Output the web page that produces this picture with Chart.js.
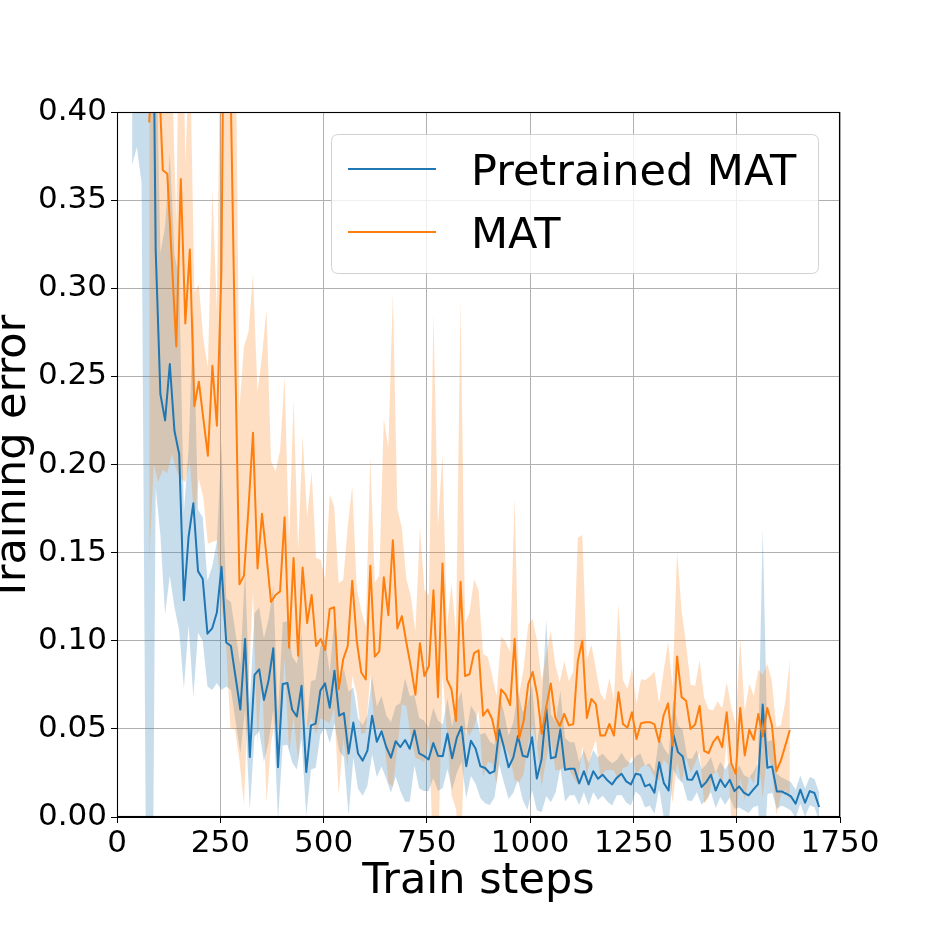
<!DOCTYPE html>
<html>
<head>
<meta charset="utf-8">
<script src="https://cdn.jsdelivr.net/npm/chart.js@4.4.0/dist/chart.umd.min.js"></script>
<style>
  html, body { margin: 0; padding: 0; background: #ffffff; }
  #wrap { width: 934px; height: 934px; position: relative; overflow: hidden; }
  canvas { display: block; }
</style>
</head>
<body>
<div id="wrap"><canvas id="c" width="934" height="934"></canvas></div>
<script>
// ---------------- DATA ----------------
const xTitle = 'Train steps';
const yTitle = 'Training error';
const seriesNames = ['Pretrained MAT', 'MAT'];
const xTicks = [0, 250, 500, 750, 1000, 1250, 1500, 1750];
const yTicks = [0, 0.05, 0.10, 0.15, 0.20, 0.25, 0.30, 0.35, 0.40];

const pretrainedSteps = [36.6, 48.0, 59.4, 70.8, 82.2, 93.6, 105.0, 116.4, 127.8, 139.1, 150.5, 161.9, 173.3, 184.7, 196.1, 207.5, 218.9, 230.3, 241.7, 253.0,
  264.4, 275.8, 287.2, 298.6, 310.0, 321.4, 332.8, 344.2, 355.6, 366.9, 378.3, 389.7, 401.1, 412.5, 423.9, 435.3, 446.7, 458.1, 469.5, 480.8,
  492.2, 503.6, 515.0, 526.4, 537.8, 549.2, 560.6, 572.0, 583.4, 594.7, 606.1, 617.5, 628.9, 640.3, 651.7, 663.1, 674.5, 685.9, 697.3, 708.6,
  720.0, 731.4, 742.8, 754.2, 765.6, 777.0, 788.4, 799.8, 811.2, 822.5, 833.9, 845.3, 856.7, 868.1, 879.5, 890.9, 902.3, 913.7, 925.1, 936.4,
  947.8, 959.2, 970.6, 982.0, 993.4, 1004.8, 1016.2, 1027.6, 1039.0, 1050.3, 1061.7, 1073.1, 1084.5, 1095.9, 1107.3, 1118.7, 1130.1, 1141.5, 1152.9, 1164.2,
  1175.6, 1187.0, 1198.4, 1209.8, 1221.2, 1232.6, 1244.0, 1255.4, 1266.8, 1278.1, 1289.5, 1300.9, 1312.3, 1323.7, 1335.1, 1346.5, 1357.9, 1369.3, 1380.7, 1392.0,
  1403.4, 1414.8, 1426.2, 1437.6, 1449.0, 1460.4, 1471.8, 1483.2, 1494.6, 1505.9, 1517.3, 1528.7, 1540.1, 1551.5, 1562.9, 1574.3, 1585.7, 1597.1, 1608.5, 1619.8,
  1631.2, 1642.6, 1654.0, 1665.4, 1676.8, 1688.2, 1699.6];

const pretrainedMean = [0.75, 0.8, 0.75, 0.7, 0.6,
  0.322, 0.240, 0.225, 0.257, 0.219, 0.206, 0.123, 0.159, 0.178, 0.1395, 0.135, 0.104, 0.107, 0.116, 0.142,
  0.099, 0.097, 0.079, 0.061, 0.101, 0.034, 0.0806, 0.0838, 0.0664, 0.0774, 0.0957, 0.0283, 0.0755, 0.076, 0.061, 0.057, 0.0745, 0.0255, 0.052, 0.053, 0.0717, 0.0758, 0.062, 0.083, 0.0575, 0.059, 0.036, 0.0536, 0.036,
  0.032, 0.0377, 0.0575, 0.0427, 0.0486, 0.0397, 0.0337, 0.043, 0.0397, 0.0437, 0.0387, 0.0492, 0.0361, 0.0347, 0.0327, 0.042, 0.0347, 0.0345, 0.0472, 0.0333, 0.045,
  0.0512, 0.0288, 0.0433, 0.0387, 0.0288, 0.0278, 0.0248, 0.026, 0.0496, 0.0397, 0.0282, 0.0337, 0.046, 0.0347, 0.034, 0.0452, 0.0218, 0.0327, 0.0619, 0.0333, 0.034, 0.0496, 0.0268, 0.0274, 0.0274,
  0.019, 0.026, 0.0185, 0.026, 0.0217, 0.024, 0.0208, 0.0185, 0.0223, 0.0245, 0.0202, 0.0185, 0.0245, 0.024, 0.0174, 0.0185, 0.0138, 0.031, 0.0192, 0.015, 0.047, 0.0368, 0.0343, 0.0213, 0.0211, 0.026, 0.017,
  0.0198, 0.024, 0.015, 0.0213, 0.017, 0.0211, 0.0147, 0.0174, 0.0138, 0.0123, 0.0155, 0.0185, 0.0638, 0.0279, 0.0287, 0.0145, 0.0145, 0.0132, 0.0117, 0.0075, 0.0155, 0.0081, 0.0147, 0.0136, 0.0057];

const pretrainedStd = [0.38, 0.42, 0.39, 0.75, 0.8,
  0.135, 0.08, 0.11, 0.12, 0.10, 0.10, 0.05, 0.05, 0.11, 0.035, 0.035, 0.03, 0.035, 0.04, 0.07,
  0.025, 0.025, 0.025, 0.025, 0.04, 0.03, 0.035, 0.035, 0.035, 0.035, 0.035, 0.03, 0.035, 0.035, 0.03, 0.03, 0.03, 0.025, 0.025, 0.025, 0.025, 0.025, 0.02, 0.03, 0.02, 0.025, 0.035, 0.02, 0.02,
  0.02, 0.02, 0.022, 0.02, 0.02, 0.018, 0.02, 0.02, 0.025, 0.035, 0.03, 0.02, 0.02, 0.02, 0.018, 0.02, 0.02, 0.018, 0.02, 0.018, 0.02,
  0.02, 0.018, 0.02, 0.02, 0.018, 0.02, 0.018, 0.015, 0.02, 0.02, 0.018, 0.02, 0.025, 0.025, 0.03, 0.03, 0.018, 0.03, 0.05, 0.025, 0.02, 0.022, 0.018, 0.015, 0.015,
  0.012, 0.012, 0.012, 0.012, 0.012, 0.012, 0.012, 0.012, 0.01, 0.012, 0.012, 0.012, 0.01, 0.012, 0.012, 0.012, 0.012, 0.015, 0.02, 0.02, 0.02, 0.015, 0.015, 0.012, 0.012, 0.012, 0.01,
  0.01, 0.01, 0.01, 0.01, 0.01, 0.01, 0.01, 0.012, 0.01, 0.01, 0.01, 0.012, 0.10, 0.015, 0.015, 0.01, 0.008, 0.008, 0.008, 0.008, 0.008, 0.008, 0.008, 0.008, 0.008];

const matSteps = [78.0, 88.9, 99.8, 110.8, 121.7, 132.6, 143.5, 154.4, 165.4, 176.3, 187.2, 198.1, 209.0, 220.0, 230.9, 241.8, 252.7, 263.6, 274.6, 285.5,
  296.4, 307.3, 318.2, 329.2, 340.1, 351.0, 361.9, 372.8, 383.8, 394.7, 405.6, 416.5, 427.4, 438.4, 449.3, 460.2, 471.1, 482.0, 493.0, 503.9,
  514.8, 525.7, 536.6, 547.6, 558.5, 569.4, 580.3, 591.2, 602.2, 613.1, 624.0, 634.9, 645.8, 656.8, 667.7, 678.6, 689.5, 700.4, 711.4, 722.3,
  733.2, 744.1, 755.0, 766.0, 776.9, 787.8, 798.7, 809.6, 820.6, 831.5, 842.4, 853.3, 864.2, 875.2, 886.1, 897.0, 907.9, 918.8, 929.8, 940.7,
  951.6, 962.5, 973.4, 984.4, 995.3, 1006.2, 1017.1, 1028.0, 1039.0, 1049.9, 1060.8, 1071.7, 1082.6, 1093.6, 1104.5, 1115.4, 1126.3, 1137.2, 1148.2, 1159.1,
  1170.0, 1180.9, 1191.8, 1202.8, 1213.7, 1224.6, 1235.5, 1246.4, 1257.4, 1268.3, 1279.2, 1290.1, 1301.0, 1312.0, 1322.9, 1333.8, 1344.7, 1355.6, 1366.6, 1377.5,
  1388.4, 1399.3, 1410.2, 1421.2, 1432.1, 1443.0, 1453.9, 1464.8, 1475.8, 1486.7, 1497.6, 1508.5, 1519.4, 1530.4, 1541.3, 1552.2, 1563.1, 1574.0, 1585.0, 1595.9,
  1606.8, 1617.7, 1628.6];

const matMean = [0.394, 0.45, 0.43, 0.367, 0.365, 0.316, 0.267, 0.362, 0.28, 0.322, 0.233, 0.247, 0.226, 0.205, 0.256, 0.222, 0.31, 0.6, 0.42, 0.27,
  0.132, 0.137, 0.175, 0.218, 0.141, 0.172, 0.148, 0.122, 0.126, 0.128, 0.170, 0.096, 0.147, 0.0915, 0.1415, 0.110, 0.126, 0.097, 0.101, 0.0947, 0.118, 0.119, 0.0726, 0.0896, 0.097, 0.134, 0.100,
  0.082, 0.078, 0.1425, 0.091, 0.094, 0.136, 0.1145, 0.157, 0.107, 0.114, 0.099, 0.085, 0.0694, 0.0986, 0.080, 0.0857, 0.1286, 0.068, 0.1438, 0.078, 0.0724, 0.0545, 0.1335,
  0.080, 0.081, 0.093, 0.0946, 0.0575, 0.061, 0.0556, 0.0437, 0.0724, 0.0694, 0.0635, 0.101, 0.0446, 0.0546, 0.0754, 0.0823, 0.0694, 0.0472, 0.0625, 0.0758, 0.0565, 0.0516, 0.0585, 0.052, 0.0527, 0.0885,
  0.100, 0.0562, 0.067, 0.064, 0.0462, 0.0462, 0.0528, 0.0462, 0.0708, 0.0528, 0.0506, 0.0594, 0.0443, 0.0532, 0.0538, 0.0538, 0.0525, 0.0425, 0.0575, 0.0645, 0.0406, 0.0911, 0.068, 0.066, 0.050, 0.0525, 0.063, 0.0375,
  0.0362, 0.0425, 0.0457, 0.0396, 0.0594, 0.0306, 0.0245, 0.0619, 0.0349, 0.0496, 0.0438, 0.0585, 0.0457, 0.0619, 0.0525, 0.026, 0.032, 0.0406, 0.0494];

const matStd = [0.25, 0.25, 0.24, 0.17, 0.17, 0.11, 0.07, 0.17, 0.09, 0.12, 0.065, 0.055, 0.045, 0.05, 0.10, 0.065, 0.19, 0.5, 0.37, 0.22,
  0.10, 0.13, 0.10, 0.09, 0.10, 0.09, 0.14, 0.08, 0.07, 0.08, 0.08, 0.06, 0.09, 0.06, 0.075, 0.06, 0.07, 0.05, 0.045, 0.04, 0.065, 0.057, 0.06, 0.045, 0.068, 0.054, 0.03,
  0.035, 0.03, 0.062, 0.042, 0.043, 0.09, 0.095, 0.14, 0.068, 0.05, 0.036, 0.04, 0.036, 0.066, 0.049, 0.04, 0.157, 0.097, 0.062, 0.03, 0.06, 0.05, 0.16,
  0.03, 0.035, 0.042, 0.034, 0.035, 0.03, 0.025, 0.025, 0.03, 0.03, 0.03, 0.08, 0.025, 0.03, 0.034, 0.03, 0.03, 0.03, 0.03, 0.03, 0.03, 0.025, 0.03, 0.025, 0.03, 0.07,
  0.06, 0.033, 0.031, 0.02, 0.024, 0.02, 0.026, 0.02, 0.05, 0.025, 0.022, 0.025, 0.02, 0.025, 0.024, 0.026, 0.03, 0.022, 0.025, 0.035, 0.033, 0.06, 0.049, 0.032, 0.025, 0.022, 0.026, 0.03,
  0.025, 0.018, 0.02, 0.022, 0.017, 0.032, 0.028, 0.04, 0.025, 0.026, 0.025, 0.025, 0.035, 0.025, 0.025, 0.025, 0.02, 0.025, 0.04];

// ---------------- STYLE ----------------
const FONT = "'DejaVu Sans', 'Liberation Sans', sans-serif";
const BLUE = '#1f77b4';
const ORANGE = '#ff7f0e';
const BLUE_FILL = 'rgba(31,119,180,0.25)';
const ORANGE_FILL = 'rgba(255,127,14,0.25)';

function pts(steps, vals) {
  const n = Math.min(steps.length, vals.length);
  const out = [];
  for (let i = 0; i < n; i++) out.push({ x: steps[i], y: vals[i] });
  return out;
}
function band(steps, mean, std, sign) {
  const n = Math.min(steps.length, mean.length, std.length);
  const out = [];
  for (let i = 0; i < n; i++) out.push({ x: steps[i], y: mean[i] + sign * std[i] });
  return out;
}

const common = { pointRadius: 0, pointHoverRadius: 0, tension: 0, borderJoinStyle: 'round' };

const datasets = [
  Object.assign({ label: 'pre_lo', data: band(pretrainedSteps, pretrainedMean, pretrainedStd, -1), borderWidth: 0, borderColor: 'rgba(0,0,0,0)', fill: false, order: 10 }, common),
  Object.assign({ label: 'pre_hi', data: band(pretrainedSteps, pretrainedMean, pretrainedStd, 1), borderWidth: 0, borderColor: 'rgba(0,0,0,0)', backgroundColor: BLUE_FILL, fill: '-1', order: 10 }, common),
  Object.assign({ label: 'mat_lo', data: band(matSteps, matMean, matStd, -1), borderWidth: 0, borderColor: 'rgba(0,0,0,0)', fill: false, order: 9 }, common),
  Object.assign({ label: 'mat_hi', data: band(matSteps, matMean, matStd, 1), borderWidth: 0, borderColor: 'rgba(0,0,0,0)', backgroundColor: ORANGE_FILL, fill: '-1', order: 9 }, common),
  Object.assign({ label: seriesNames[0], data: pts(pretrainedSteps, pretrainedMean), borderColor: BLUE, borderWidth: 2, fill: false, order: 2 }, common),
  Object.assign({ label: seriesNames[1], data: pts(matSteps, matMean), borderColor: ORANGE, borderWidth: 2, fill: false, order: 1 }, common)
];

const decor = {
  id: 'decor',
  afterDraw(chart) {
    const ctx = chart.ctx;
    const a = chart.chartArea;
    ctx.save();
    // frame (all four spines)
    ctx.strokeStyle = '#000';
    ctx.lineWidth = 1.1;
    ctx.strokeRect(Math.round(a.left) + 0.5, Math.round(a.top) + 0.5, Math.round(a.right - a.left) - 1, Math.round(a.bottom - a.top) - 1);

    // legend
    const bx = 331.5, by = 134.5, bw = 487, bh = 139, r = 7;
    ctx.beginPath();
    ctx.moveTo(bx + r, by);
    ctx.lineTo(bx + bw - r, by);
    ctx.quadraticCurveTo(bx + bw, by, bx + bw, by + r);
    ctx.lineTo(bx + bw, by + bh - r);
    ctx.quadraticCurveTo(bx + bw, by + bh, bx + bw - r, by + bh);
    ctx.lineTo(bx + r, by + bh);
    ctx.quadraticCurveTo(bx, by + bh, bx, by + bh - r);
    ctx.lineTo(bx, by + r);
    ctx.quadraticCurveTo(bx, by, bx + r, by);
    ctx.closePath();
    ctx.fillStyle = 'rgba(255,255,255,0.8)';
    ctx.fill();
    ctx.strokeStyle = 'rgba(204,204,204,0.9)';
    ctx.lineWidth = 1;
    ctx.stroke();

    const entries = [
      { name: seriesNames[0], color: BLUE, y: 169 },
      { name: seriesNames[1], color: ORANGE, y: 232 }
    ];
    ctx.font = '43px ' + FONT;
    ctx.textAlign = 'left';
    ctx.textBaseline = 'alphabetic';
    entries.forEach(e => {
      ctx.strokeStyle = e.color;
      ctx.lineWidth = 2;
      ctx.beginPath();
      ctx.moveTo(348, e.y);
      ctx.lineTo(436, e.y);
      ctx.stroke();
      ctx.fillStyle = '#000';
      ctx.fillText(e.name, 471, e.y + 15.5);
    });

    // axis titles
    ctx.fillStyle = '#000';
    ctx.font = '43px ' + FONT;
    ctx.textAlign = 'center';
    ctx.textBaseline = 'alphabetic';
    ctx.fillText(xTitle, (a.left + a.right) / 2, 893);

    ctx.save();
    ctx.translate(25, (a.top + a.bottom) / 2 - 6);
    ctx.rotate(-Math.PI / 2);
    ctx.fillText(yTitle, 0, 0);
    ctx.restore();

    ctx.restore();
  }
};

const chart = new Chart(document.getElementById('c'), {
  type: 'line',
  data: { datasets },
  plugins: [decor],
  options: {
    responsive: false,
    animation: false,
    devicePixelRatio: 1,
    layout: { padding: { left: 0, top: 112, right: 94, bottom: 0 } },
    plugins: { legend: { display: false }, tooltip: { enabled: false }, filler: { propagate: false } },
    scales: {
      x: {
        type: 'linear',
        min: xTicks[0],
        max: xTicks[xTicks.length - 1],
        afterFit(s) { s.height = 117; },
        afterBuildTicks(s) { s.ticks = xTicks.map(v => ({ value: v })); },
        grid: { color: '#b0b0b0', lineWidth: 1, tickLength: 6, tickColor: '#000', drawTicks: true },
        border: { display: true, color: '#000', width: 1 },
        ticks: { font: { size: 31, family: FONT }, color: '#000', padding: 2, maxRotation: 0, autoSkip: false,
                 callback: v => String(v) }
      },
      y: {
        type: 'linear',
        min: yTicks[0],
        max: yTicks[yTicks.length - 1],
        afterFit(s) { s.width = 117; },
        afterBuildTicks(s) { s.ticks = yTicks.map(v => ({ value: v })); },
        grid: { color: '#b0b0b0', lineWidth: 1, tickLength: 6, tickColor: '#000', drawTicks: true },
        border: { display: true, color: '#000', width: 1 },
        ticks: { font: { size: 31, family: FONT }, color: '#000', padding: 4, autoSkip: false,
                 callback: v => Number(v).toFixed(2) }
      }
    }
  }
});
</script>
</body>
</html>
